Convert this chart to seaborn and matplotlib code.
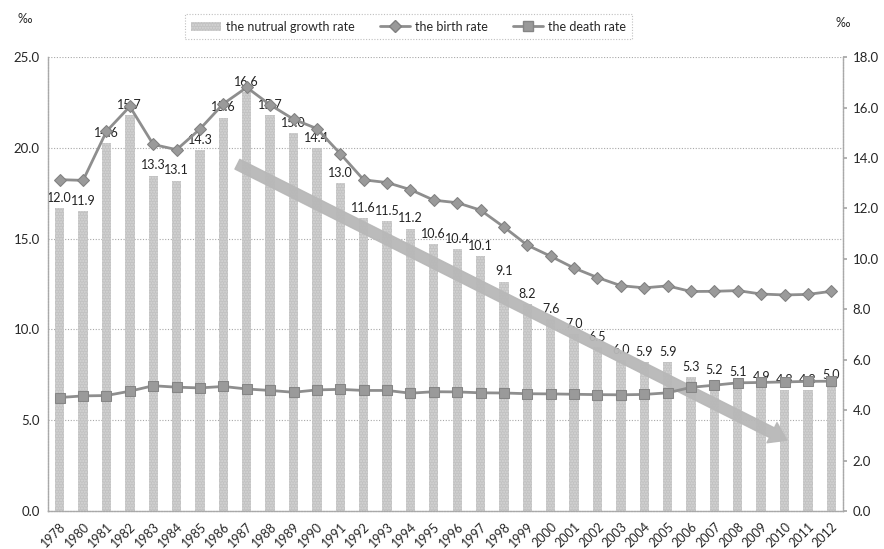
import matplotlib
matplotlib.use("Agg")
import matplotlib.pyplot as plt
from matplotlib.lines import Line2D
from matplotlib.patches import Patch
import seaborn as sns
import pandas as pd

years = ["1978", "1980", "1981", "1982", "1983", "1984", "1985", "1986", "1987",
         "1988", "1989", "1990", "1991", "1992", "1993", "1994", "1995", "1996",
         "1997", "1998", "1999", "2000", "2001", "2002", "2003", "2004", "2005",
         "2006", "2007", "2008", "2009", "2010", "2011", "2012"]

growth_rate = [12.0, 11.9, 14.6, 15.7, 13.3, 13.1, 14.3, 15.6, 16.6, 15.7, 15.0,
               14.4, 13.0, 11.6, 11.5, 11.2, 10.6, 10.4, 10.1, 9.1, 8.2, 7.6,
               7.0, 6.5, 6.0, 5.9, 5.9, 5.3, 5.2, 5.1, 4.9, 4.8, 4.8, 5.0]

birth_rate = [18.25, 18.21, 20.91, 22.28, 20.19, 19.90, 21.04, 22.43, 23.33,
              22.37, 21.58, 21.06, 19.68, 18.24, 18.09, 17.70, 17.12, 16.98,
              16.57, 15.64, 14.64, 14.03, 13.38, 12.86, 12.41, 12.29, 12.40,
              12.09, 12.10, 12.14, 11.95, 11.90, 11.93, 12.10]

death_rate = [6.25, 6.34, 6.36, 6.60, 6.90, 6.82, 6.78, 6.86, 6.72, 6.64, 6.54,
              6.67, 6.70, 6.64, 6.64, 6.49, 6.57, 6.56, 6.51, 6.50, 6.46, 6.45,
              6.43, 6.41, 6.40, 6.42, 6.51, 6.81, 6.93, 7.06, 7.08, 7.11, 7.14,
              7.15]

left_ticks = [0, 5, 10, 15, 20, 25]
right_ticks = [0, 2, 4, 6, 8, 10, 12, 14, 16, 18]

df = pd.DataFrame({"year": years, "growth": growth_rate,
                   "birth": birth_rate, "death": death_rate})
df["pos"] = range(len(df))

sns.set_theme(style="white")
plt.rcParams["font.family"] = ["Lato", "DejaVu Sans"]

bar_color = "#c2c2c2"
line_color = "#8e8e8e"
marker_color = "#9a9a9a"
grid_color = "#a8a8a8"

fig = plt.figure(figsize=(8.84, 5.49), dpi=100)
axL = fig.add_axes([0.0543, 0.0692, 0.8993, 0.8268])
axR = axL.twinx()
axL.set_zorder(axR.get_zorder() + 1)
axL.patch.set_visible(False)

# bars: natural growth rate on the right-hand scale
sns.barplot(data=df, x="pos", y="growth", ax=axR, color=bar_color,
            width=0.4, saturation=1, native_scale=True, edgecolor="none",
            zorder=2)
for p in axR.patches:
    p.set_hatch("......")
    p.set_edgecolor("#d6d6d6")
    p.set_linewidth(0)

axR.set_ylim(0, 18)
axR.set_yticks(right_ticks)
axR.set_yticklabels([f"{t:.1f}" for t in right_ticks], fontsize=9.5)
axR.set_ylabel("")

# horizontal gridlines follow the left-hand scale
for t in left_ticks[1:]:
    axR.axhline(t * 18 / 25, color=grid_color, lw=0.8, ls=(0, (1, 1.5)),
                zorder=1)

for i, v in enumerate(growth_rate):
    axR.annotate(f"{v:.1f}", (i, v), xytext=(0, 3), textcoords="offset points",
                 ha="center", va="bottom", fontsize=9, color="#222222",
                 zorder=5)

# lines: birth and death rates on the left-hand scale
sns.lineplot(data=df, x="pos", y="birth", ax=axL, color=line_color, lw=2,
             marker="D", markersize=6, markerfacecolor=marker_color,
             markeredgecolor="#808080", zorder=4)
sns.lineplot(data=df, x="pos", y="death", ax=axL, color=line_color, lw=2,
             marker="s", markersize=7.5, markerfacecolor=marker_color,
             markeredgecolor="#858585", zorder=4)

# downward trend arrow
axL.annotate("", xy=(31.1, 3.9), xytext=(7.6, 19.1),
             arrowprops=dict(arrowstyle="simple,head_length=1.0,head_width=1.35,tail_width=0.65",
                             color="#b8b8b8", alpha=0.95, mutation_scale=12,
                             shrinkA=0, shrinkB=0),
             zorder=3)

axL.set_ylim(0, 25)
axL.set_yticks(left_ticks)
axL.set_yticklabels([f"{t:.1f}" for t in left_ticks], fontsize=9.5)
axL.set_xlim(-0.5, len(years) - 0.5)
axL.set_xticks(range(len(years)))
axL.set_xticklabels(years, rotation=45, ha="right", rotation_mode="anchor",
                    fontsize=9)
axL.set_xticks([i - 0.5 for i in range(len(years) + 1)], minor=True)
axL.tick_params(axis="x", which="major", length=0, pad=7)
axL.tick_params(axis="x", which="minor", length=3, color=grid_color)
axL.tick_params(axis="y", length=0, pad=6)
axR.tick_params(axis="y", length=3, color=grid_color, pad=4)
axL.set_xlabel("")
axL.set_ylabel("")
axR.set_xlabel("")

for ax in (axL, axR):
    ax.spines["top"].set_visible(False)
    for side in ("left", "right", "bottom"):
        ax.spines[side].set_linestyle((0, (1, 1.2)))
        ax.spines[side].set_color(grid_color)
        ax.spines[side].set_linewidth(0.9)

fig.text(0.02, 0.965, "‰", fontsize=9, ha="left", va="center")
fig.text(0.953, 0.958, "‰", fontsize=9, ha="center", va="center")

handles = [
    Patch(facecolor=bar_color, edgecolor="#d6d6d6", hatch="......", lw=0),
    Line2D([], [], color=line_color, lw=2, marker="D", markersize=6,
           markerfacecolor=marker_color, markeredgecolor="#808080"),
    Line2D([], [], color=line_color, lw=2, marker="s", markersize=7.5,
           markerfacecolor=marker_color, markeredgecolor="#858585"),
]
labels = ["the nutrual growth rate", "the birth rate", "the death rate"]
leg = fig.legend(handles, labels, loc="upper center", ncol=3,
                 bbox_to_anchor=(0.462, 0.985), fontsize=9, frameon=True,
                 fancybox=False, handlelength=2.4, columnspacing=2.0,
                 borderpad=0.5, handletextpad=0.4)
leg.get_frame().set_linestyle((0, (1, 1.5)))
leg.get_frame().set_edgecolor("#b0b0b0")
leg.get_frame().set_linewidth(0.8)

fig.savefig("out.png", dpi=100)
